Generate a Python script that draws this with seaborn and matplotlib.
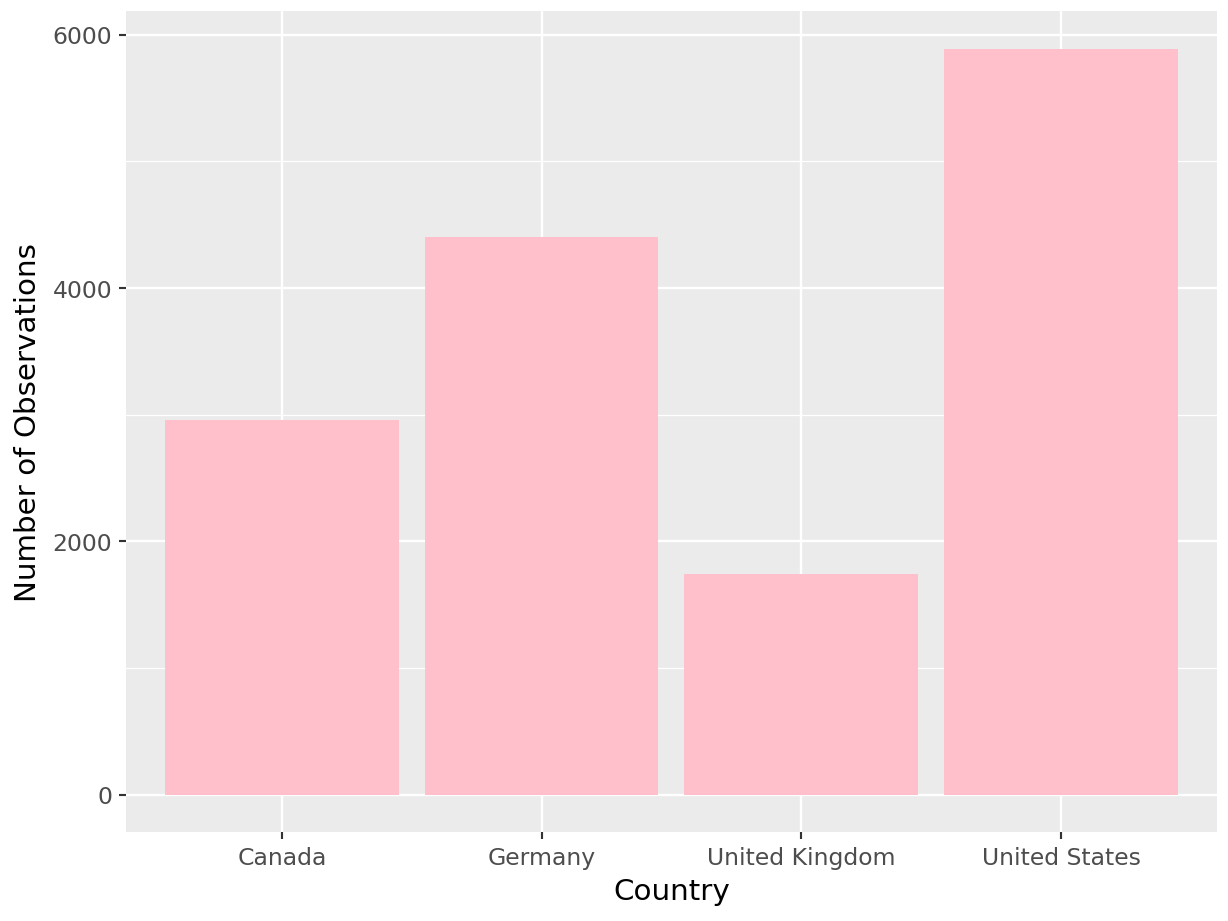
import matplotlib
matplotlib.use("Agg")
import matplotlib.pyplot as plt
import numpy as np
import pandas as pd
import seaborn as sns
from matplotlib.ticker import MultipleLocator

countries = ["Canada", "Germany", "United Kingdom", "United States"]
observations = [2956, 4400, 1742, 5890]

df = pd.DataFrame({"Country": countries, "Number of Observations": observations})

sns.set_theme(style="darkgrid")
plt.rcParams["font.family"] = ["DejaVu Sans"]

fig = plt.figure(figsize=(6.4, 4.8), dpi=192)
ax = fig.add_axes([0.1026, 0.0966, 0.8876, 0.8904])

sns.barplot(
    data=df,
    x="Country",
    y="Number of Observations",
    color="#FFC0CB",
    saturation=1,
    width=0.9,
    linewidth=0,
    edgecolor="none",
    ax=ax,
    zorder=3,
)

# ggplot-like look
ax.set_facecolor("#EBEBEB")
for s in ax.spines.values():
    s.set_visible(False)
ax.yaxis.set_major_locator(MultipleLocator(2000))
ax.yaxis.set_minor_locator(MultipleLocator(1000))
ax.grid(which="major", color="white", linewidth=0.9, zorder=0)
ax.grid(which="minor", axis="y", color="white", linewidth=0.45, zorder=0)
ax.set_axisbelow(True)

ymax = max(observations)
ax.set_ylim(-0.05 * ymax, 1.05 * ymax)
ax.set_xlim(-0.6, len(countries) - 0.4)

ax.tick_params(axis="both", which="major", length=2.75, width=0.8, color="#333333",
               labelcolor="#4D4D4D", labelsize=8.8, pad=2.5, direction="out")
ax.tick_params(axis="y", which="minor", length=0)
ax.tick_params(bottom=True, left=True)
ax.set_xlabel("Country", fontsize=11, color="black", labelpad=3)
ax.set_ylabel("Number of Observations", fontsize=11, color="black", labelpad=4)

fig.savefig("out.png", dpi=192, facecolor="white")
